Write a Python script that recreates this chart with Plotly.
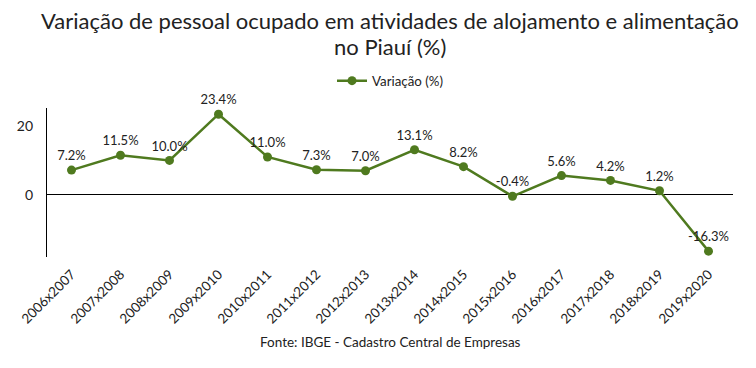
import plotly.graph_objects as go

categories = ["2006x2007", "2007x2008", "2008x2009", "2009x2010", "2010x2011", "2011x2012",
              "2012x2013", "2013x2014", "2014x2015", "2015x2016", "2016x2017", "2017x2018",
              "2018x2019", "2019x2020"]
variacao = [7.2, 11.5, 10.0, 23.4, 11.0, 7.3, 7.0, 13.1, 8.2, -0.4, 5.6, 4.2, 1.2, -16.3]
labels = [f"{v:.1f}%" for v in variacao]
title_lines = ["Variação de pessoal ocupado em atividades de alojamento e alimentação",
               "no Piauí (%)"]

green = "#4f7a1f"
font = "Lato, 'Open Sans', sans-serif"

fig = go.Figure()
fig.add_trace(go.Scatter(
    x=categories, y=variacao, mode="lines+markers+text",
    name="Variação (%)",
    line=dict(color=green, width=2.5),
    marker=dict(color=green, size=9),
    text=labels, textposition="top center",
    textfont=dict(family=font, size=13, color="#222"),
    cliponaxis=False,
))

# page body has an 8px margin: figure is sized/offset to compensate
fig.update_layout(
    width=748, height=360,
    paper_bgcolor="white", plot_bgcolor="white",
    margin=dict(l=39, r=23, t=100, b=111, autoexpand=False),
    font=dict(family=font, color="#222"),
    showlegend=True,
    legend=dict(orientation="h", x=0.5, xanchor="center", y=1.181, yanchor="middle",
                font=dict(family=font, size=13.3, color="#222"), itemwidth=30),
    xaxis=dict(type="category", range=[-0.5, 13.5], showgrid=False, showline=False,
               tickangle=-45, tickfont=dict(family=font, size=13.5, color="#222"),
               ticks="", zeroline=False, ticklabelshift=0, ticklabelstandoff=6),
    yaxis=dict(range=[-18, 25.2], dtick=20, showgrid=False, zeroline=True,
               zerolinecolor="black", zerolinewidth=1.2,
               showline=True, linecolor="black", linewidth=1.2,
               tickfont=dict(family=font, size=14, color="#222"), ticks="",
               ticklabelstandoff=10),
    annotations=[
        dict(text=title_lines[0], x=0.5, xref="paper", y=1.584, yref="paper", showarrow=False,
             xanchor="center", yanchor="middle", font=dict(family=font, size=22, color="#222")),
        dict(text=title_lines[1], x=0.5, xref="paper", y=1.416, yref="paper", showarrow=False,
             xanchor="center", yanchor="middle", font=dict(family=font, size=22, color="#222")),
        dict(text="Fonte: IBGE - Cadastro Central de Empresas", x=0.5, xref="paper",
             y=-0.57, yref="paper", showarrow=False, xanchor="center", yanchor="middle",
             font=dict(family=font, size=13.5, color="#222")),
    ],
)

fig.write_html("out.html")
